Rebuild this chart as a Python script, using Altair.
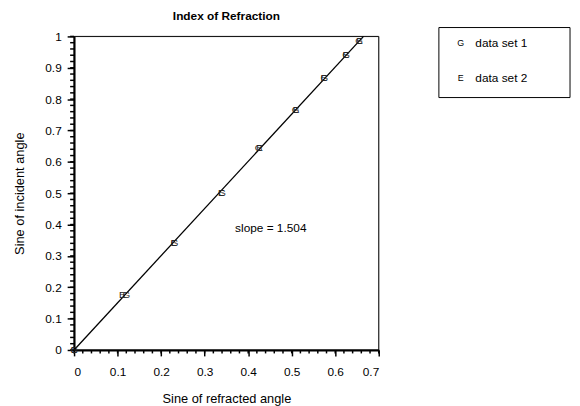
import altair as alt
import pandas as pd

# data set 1 (symbol "G") and data set 2 (symbol "E")
x1 = [0.0, 0.120, 0.231, 0.340, 0.424, 0.509, 0.575, 0.625, 0.655]
y1 = [0.0, 0.174, 0.342, 0.500, 0.643, 0.766, 0.866, 0.940, 0.985]
x2 = [0.0, 0.111, 0.229, 0.338, 0.426, 0.510, 0.574, 0.624, 0.656]
y2 = [0.0, 0.174, 0.342, 0.500, 0.643, 0.766, 0.866, 0.940, 0.985]
fit_x = [0.0, 0.665]
fit_y = [0.0, 1.0]
x_major = [0, 0.1, 0.2, 0.3, 0.4, 0.5, 0.6, 0.7]
y_major = [0, 0.1, 0.2, 0.3, 0.4, 0.5, 0.6, 0.7, 0.8, 0.9, 1]
x_minor = [round(i * 0.02, 2) for i in range(36)]
y_minor = [round(i * 0.02, 2) for i in range(51)]
series_names = ["data set 1", "data set 2"]
series_symbols = ["G", "E"]

FONT = "Liberation Sans"
W, H = 309, 318

pts = pd.DataFrame({
    "x": x1 + x2,
    "y": y1 + y2,
    "sym": ["G"] * len(x1) + ["E"] * len(x2),
})
fit = pd.DataFrame({"x": fit_x, "y": fit_y})

xs = alt.Scale(domain=[0, 0.7], nice=False, zero=False)
ys = alt.Scale(domain=[0, 1], nice=False, zero=False)

ax_common = dict(grid=False, domainColor="black", tickColor="black",
                 labelColor="black", titleColor="black", labelFont=FONT,
                 titleFont=FONT, labelFontSize=12, titleFontSize=13,
                 titleFontWeight="normal", domainWidth=2, tickWidth=1.5)

x_axis = alt.Axis(values=x_major, tickSize=6, labelPadding=11, orient="bottom",
                  title="Sine of refracted angle", titlePadding=15,
                  labelExpr="datum.value == 0 ? '0' : format(datum.value, '.1~f')",
                  **ax_common)
y_axis = alt.Axis(values=y_major, tickSize=7, labelPadding=6, orient="left",
                  title="Sine of incident angle", titlePadding=19,
                  labelExpr="datum.value == 0 ? '0' : datum.value == 1 ? '1' : format(datum.value, '.1~f')",
                  **ax_common)


def X(field="x"):
    return alt.X(f"{field}:Q", scale=xs, axis=x_axis)


def Y(field="y"):
    return alt.Y(f"{field}:Q", scale=ys, axis=y_axis)


frame = alt.Chart(pd.DataFrame({"a": [0]})).mark_rect(
    fill=None, stroke="black", strokeWidth=1
).encode(x=alt.value(0), x2=alt.value(W), y=alt.value(0), y2=alt.value(H))

line = alt.Chart(fit).mark_line(color="black", strokeWidth=1.3).encode(x=X(), y=Y())

xminor = alt.Chart(pd.DataFrame({"x": x_minor})).mark_rule(color="black", strokeWidth=1.5).encode(
    x=X(), y=alt.value(H), y2=alt.value(H + 3.5),
)
yminor = alt.Chart(pd.DataFrame({"y": y_minor})).mark_rule(color="black", strokeWidth=1.5).encode(
    y=Y(), x=alt.value(-4), x2=alt.value(0),
)

points = alt.Chart(pts).mark_text(font=FONT, fontSize=10, color="#222").encode(
    x=X(), y=Y(), text="sym:N",
)

slope = alt.Chart(pd.DataFrame({"x": [0.37], "y": [0.388], "t": ["slope = 1.504"]})).mark_text(
    font=FONT, fontSize=12, align="left", color="black"
).encode(x=X(), y=Y(), text="t:N")

leg_box = alt.Chart(pd.DataFrame({"a": [0]})).mark_rect(
    fill="white", stroke="black", strokeWidth=1
).encode(x=alt.value(370), x2=alt.value(503), y=alt.value(-9), y2=alt.value(62))

leg_layers = []
for i, (sym, name) in enumerate(zip(series_symbols, series_names)):
    ypos = 7 + 35 * i
    d = pd.DataFrame({"sym": [sym], "name": [name]})
    leg_layers.append(alt.Chart(d).mark_text(font=FONT, fontSize=9, color="black").encode(
        x=alt.value(392), y=alt.value(ypos), text="sym:N"))
    leg_layers.append(alt.Chart(d).mark_text(font=FONT, fontSize=12, align="left", color="black").encode(
        x=alt.value(407), y=alt.value(ypos), text="name:N"))

chart = alt.layer(frame, line, xminor, yminor, points, slope, leg_box, *leg_layers).properties(
    width=W, height=H,
    autosize=alt.AutoSizeParams(type="none"),
    padding={"left": 67, "top": 26, "right": 196, "bottom": 54},
    title=alt.TitleParams("Index of Refraction", font=FONT, fontSize=12,
                          fontWeight="bold", color="black", offset=4, anchor="middle"),
).configure_view(strokeWidth=0).configure(background="white")

chart.save("out.html", embed_options={"renderer": "svg", "actions": False})
